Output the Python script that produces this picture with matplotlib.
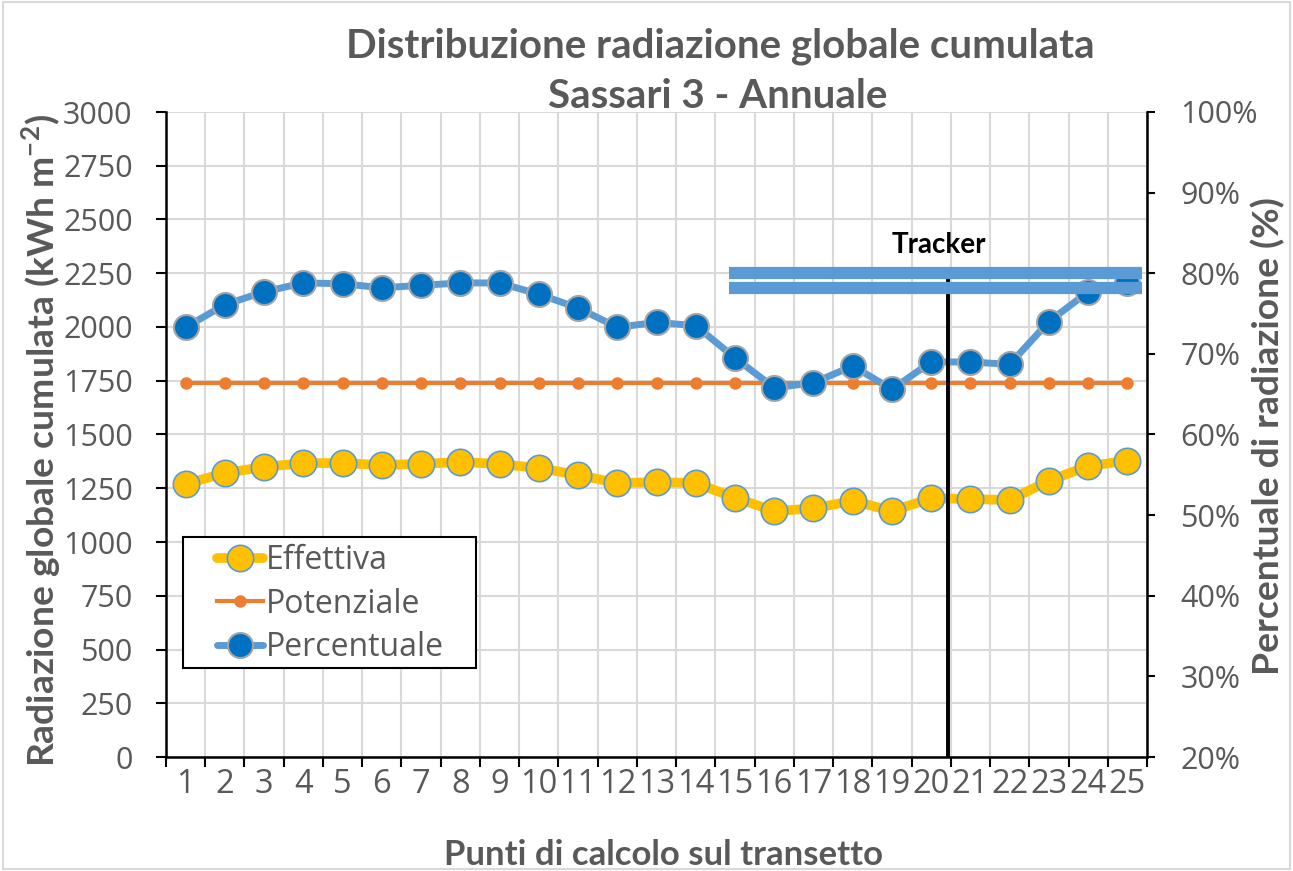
import matplotlib
matplotlib.use("Agg")
import matplotlib.pyplot as plt
from matplotlib.lines import Line2D
from matplotlib.patches import Rectangle

# ---------------- data ----------------
categories = [str(i) for i in range(1, 26)]
effettiva = [1270, 1321, 1349, 1367, 1367, 1358, 1363, 1372, 1363, 1344,
             1312, 1274, 1279, 1274, 1206, 1144, 1156, 1192, 1144, 1203,
             1200, 1195, 1285, 1353, 1378]
potenziale = [1740, 1740, 1740, 1740, 1740, 1740, 1740, 1740, 1740, 1740,
              1740, 1740, 1740, 1740, 1740, 1740, 1740, 1740, 1740, 1740,
              1740, 1740, 1740, 1740, 1740]
percentuale = [73.3, 76.1, 77.7, 78.8, 78.7, 78.2, 78.5, 78.8, 78.8, 77.4,
               75.7, 73.3, 73.9, 73.5, 69.5, 65.8, 66.4, 68.5, 65.6, 69.0,
               69.0, 68.7, 74.0, 77.7, 78.8]
left_ticks = [0, 250, 500, 750, 1000, 1250, 1500, 1750, 2000, 2250, 2500, 2750, 3000]
right_ticks = [20, 30, 40, 50, 60, 70, 80, 90, 100]
tracker_bars = [80.0, 78.2]          # % (right axis)
tracker_x = (14.85, 25.385)          # category span of bars
tracker_vline_x = 20.42
tracker_vline_top = 79.3             # %
tracker_label_pos = (20.2, 83.5)

title_lines = ["Distribuzione radiazione globale cumulata", "Sassari 3 - Annuale"]
xlabel = "Punti di calcolo sul transetto"
ylabel_left = r"Radiazione globale cumulata (kWh m$^{\mathregular{-2}}$)"
ylabel_right = "Percentuale di radiazione (%)"
legend_labels = ["Effettiva", "Potenziale", "Percentuale"]

GRAY = "#595959"
FONT = "Open Sans"
BFONT = "Lato"

W, H = 1293, 871
fig = plt.figure(figsize=(W / 100, H / 100), dpi=100)
fig.patch.set_facecolor("white")
fig.add_artist(Rectangle((0.002, 0.002), 0.996, 0.996, transform=fig.transFigure,
                         fill=False, edgecolor="#D9D9D9", linewidth=1.5))

L, R, T, B = 166, 1147, 112, 757
ax = fig.add_axes([L / W, 1 - B / H, (R - L) / W, (B - T) / H])
ax2 = ax.twinx()

x = list(range(1, 26))

eff_style = dict(color="#FFC000", lw=7, marker="o", ms=19, mfc="#FFC000",
                 mec="#5B9BD5", mew=1.2)
pot_style = dict(color="#ED7D31", lw=3, marker="o", ms=8, mfc="#ED7D31",
                 mec="#ED7D31")
per_style = dict(color="#5B9BD5", lw=5, marker="o", ms=18, mfc="#0070C0",
                 mec="#A5A5A5", mew=1.5)

# left-axis series
ax.plot(x, potenziale, zorder=3, **pot_style)
ax.plot(x, effettiva, zorder=4, **eff_style)

# right-axis series
ax2.plot(x, percentuale, zorder=3, **per_style)
ax2.plot([tracker_vline_x, tracker_vline_x], [20, tracker_vline_top],
         color="black", lw=2.8, zorder=4, solid_capstyle="butt")
for yv in tracker_bars:
    ax2.plot(list(tracker_x), [yv, yv], color="#5B9BD5", lw=8.8,
             solid_capstyle="butt", zorder=5)
ax2.text(*tracker_label_pos, "Tracker", ha="center", va="center", fontsize=20,
         fontweight="bold", family=BFONT, color="black", zorder=6)

# axes limits & ticks
ax.set_xlim(0.5, 25.5)
ax.set_ylim(0, 3000)
ax2.set_ylim(20, 100)

ax.set_xticks(x)
ax.set_xticklabels(categories)
ax.set_xticks([i + 0.5 for i in range(0, 26)], minor=True)
ax.tick_params(axis="x", which="major", length=0, pad=8, labelsize=23.5,
               labelcolor=GRAY)
ax.tick_params(axis="x", which="minor", length=7, width=1.5, color="black")
for lab in ax.get_xticklabels():
    lab.set_family(FONT)

ax.set_yticks(left_ticks)
ax.set_yticklabels([str(v) for v in left_ticks])
ax.tick_params(axis="y", length=7, width=1.5, pad=17, labelsize=22,
               labelcolor=GRAY)
for lab in ax.get_yticklabels():
    lab.set_family(FONT)

ax2.set_yticks(right_ticks)
ax2.set_yticklabels([f"{v}%" for v in right_ticks])
ax2.tick_params(axis="y", length=6, width=1.5, pad=18, labelsize=22,
                labelcolor=GRAY)
for lab in ax2.get_yticklabels():
    lab.set_family(FONT)

# grid
ax.set_axisbelow(True)
ax.grid(axis="y", which="major", color="#D9D9D9", lw=1.5)
ax.grid(axis="x", which="minor", color="#D9D9D9", lw=1.5)

# spines
for s in ["top", "right"]:
    ax.spines[s].set_visible(False)
for s in ["top", "left", "bottom"]:
    ax2.spines[s].set_visible(False)
ax.spines["left"].set_linewidth(1.8)
ax.spines["bottom"].set_linewidth(1.8)
ax2.spines["right"].set_linewidth(1.8)
ax2.patch.set_visible(False)

# titles and labels
fig.text(720 / W, 1 - 46 / H, title_lines[0],
         ha="center", va="center", fontsize=29, fontweight="bold",
         family=BFONT, color=GRAY)
fig.text(718 / W, 1 - 96 / H, title_lines[1],
         ha="center", va="center", fontsize=29, fontweight="bold",
         family=BFONT, color=GRAY)
fig.text(663 / W, 1 - 855 / H, xlabel, ha="center", va="center", fontsize=25,
         fontweight="bold", family=BFONT, color=GRAY)
fig.text(42 / W, 1 - 440 / H, ylabel_left, ha="center", va="center",
         rotation=90, fontsize=26.8, fontweight="bold", family=BFONT, color=GRAY)
fig.text(1268 / W, 1 - 436 / H, ylabel_right, ha="center", va="center",
         rotation=90, fontsize=26.8, fontweight="bold", family=BFONT, color=GRAY)

# legend: frame drawn as a box, entries as a frameless legend inside it
fig.add_artist(Rectangle((183 / W, 1 - 668 / H), 293 / W, 131 / H,
                         transform=fig.transFigure, facecolor="white",
                         edgecolor="black", linewidth=1.5, zorder=10))
handles = [Line2D([], [], solid_capstyle="round", **eff_style),
           Line2D([], [], **pot_style),
           Line2D([], [], solid_capstyle="round", **per_style)]
leg = fig.legend(handles, legend_labels, loc="upper left",
                 bbox_to_anchor=(217 / W, 1 - 544 / H),
                 bbox_transform=fig.transFigure,
                 prop={"family": FONT, "size": 23}, frameon=False,
                 handlelength=1.45, handletextpad=0.08, borderpad=0,
                 labelspacing=0.33, borderaxespad=0)
leg.set_zorder(11)
for t in leg.get_texts():
    t.set_color(GRAY)

fig.savefig("out.png", dpi=100, facecolor="white")
